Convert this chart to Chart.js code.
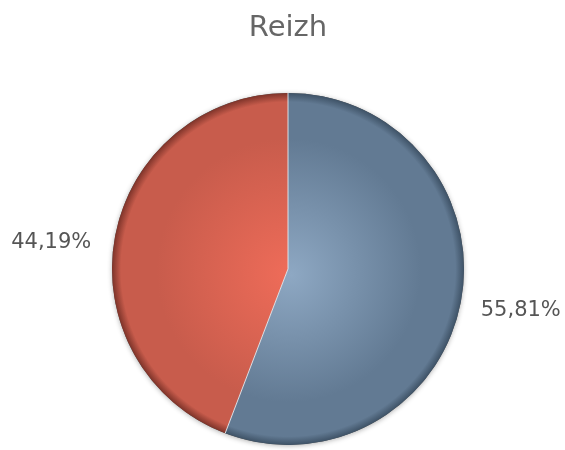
<!DOCTYPE html>
<html>
<head>
<meta charset="utf-8">
<script src="https://cdn.jsdelivr.net/npm/chart.js@4"></script>
<style>
  body { margin: 0; background: #fff; }
  #wrap { width: 565px; height: 450px; }
</style>
</head>
<body>
<div id="wrap"><canvas id="myPie"></canvas></div>
<script>
const title = 'Reizh';
const categories = ['A', 'B'];
const shares = [55.81, 44.19];

// inner (light) -> outer (dark) colours of each slice
const inner = ['#8ea8c3', '#ef6c59'];
const mid = ['#627a93', '#c85c4c'];
const outer = ['#3e5266', '#7d3329'];

const ctx = document.getElementById('myPie');

function sliceFill(c) {
  const chart = c.chart;
  const a = chart.chartArea;
  if (!a) return inner[c.dataIndex];
  const cx = (a.left + a.right) / 2, cy = (a.top + a.bottom) / 2;
  const r = Math.min(a.right - a.left, a.bottom - a.top) / 2;
  const g = chart.ctx.createRadialGradient(cx + 3, cy + 6, 0, cx, cy, r);
  g.addColorStop(0, inner[c.dataIndex]);
  g.addColorStop(0.75, mid[c.dataIndex]);
  g.addColorStop(0.95, mid[c.dataIndex]);
  g.addColorStop(1, outer[c.dataIndex]);
  return g;
}

const pieExtras = {
  id: 'pieExtras',
  beforeDatasetsDraw(chart) {
    const arc = chart.getDatasetMeta(0).data[0];
    const c = chart.ctx;
    c.save();
    c.shadowColor = 'rgba(0,0,0,0.3)';
    c.shadowBlur = 5;
    c.shadowOffsetY = 1;
    c.beginPath();
    c.arc(arc.x, arc.y, arc.outerRadius, 0, Math.PI * 2);
    c.fillStyle = '#555';
    c.fill();
    c.restore();
  },
  afterDatasetsDraw(chart) {
    const c = chart.ctx;
    const meta = chart.getDatasetMeta(0);
    c.save();
    // thin light separators between slices
    c.strokeStyle = 'rgba(230,236,242,0.9)';
    c.lineWidth = 1;
    meta.data.forEach(arc => {
      c.beginPath();
      c.moveTo(arc.x, arc.y);
      c.lineTo(arc.x + Math.cos(arc.startAngle) * arc.outerRadius,
               arc.y + Math.sin(arc.startAngle) * arc.outerRadius);
      c.stroke();
    });
    // percentage labels outside
    c.font = '21px "DejaVu Sans"';
    c.fillStyle = '#555555';
    c.textBaseline = 'middle';
    meta.data.forEach((arc, i) => {
      const m = (arc.startAngle + arc.endAngle) / 2;
      const d = arc.outerRadius + 20;
      const x = arc.x + Math.cos(m) * d;
      const y = arc.y + Math.sin(m) * d + 6;
      c.textAlign = Math.cos(m) >= 0 ? 'left' : 'right';
      c.fillText(shares[i].toFixed(2).replace('.', ',') + '%', x - (Math.cos(m) < 0 ? 4 : 0), y + (Math.cos(m) < 0 ? 3 : 0));
    });
    c.restore();
  }
};

new Chart(ctx, {
  type: 'pie',
  data: {
    labels: categories,
    datasets: [{
      data: shares,
      backgroundColor: sliceFill,
      borderWidth: 0
    }]
  },
  options: {
    responsive: true,
    maintainAspectRatio: false,
    animation: false,
    layout: { padding: { top: 0, bottom: 5, left: 112, right: 101 } },
    plugins: {
      legend: { display: false },
      tooltip: { enabled: false },
      title: {
        display: true,
        text: title,
        color: '#666666',
        font: { family: 'DejaVu Sans', size: 29, weight: 'normal' },
        padding: { top: 11, bottom: 47 }
      }
    }
  },
  plugins: [pieExtras]
});
</script>
</body>
</html>
